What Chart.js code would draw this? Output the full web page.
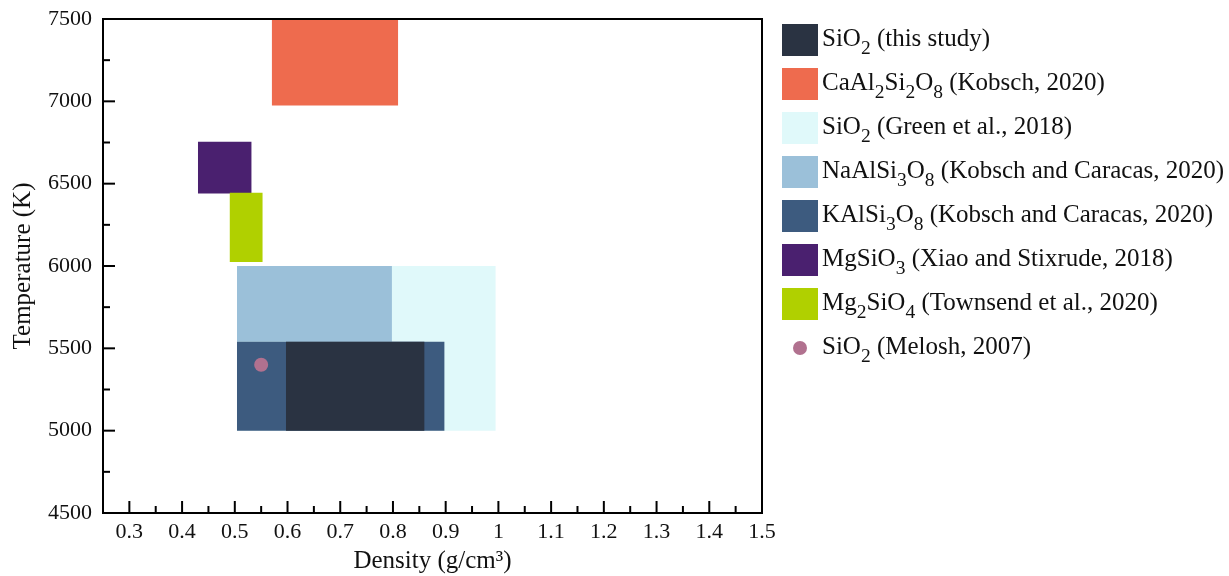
<!DOCTYPE html>
<html>
<head>
<meta charset="utf-8">
<script src="https://cdn.jsdelivr.net/npm/chart.js@4/dist/chart.umd.min.js"></script>
<style>
   html, body { margin: 0; padding: 0; background: #fff; }
   .wrap { position: relative; width: 1229px; height: 576px; }
   .legend { position: absolute; left: 782px; top: 18px; font-family: "Liberation Serif", "Times New Roman", serif; font-size: 25px; color: #111; }
   .legend .row { height: 44px; display: flex; align-items: center; white-space: nowrap; }
   .legend .box { width: 36px; height: 32px; flex: none; }
   .legend .dot { width: 14px; height: 14px; border-radius: 50%; margin: 0 11px; flex: none; }
   .legend .txt { margin-left: 4px; line-height: 25px; position: relative; top: -3px; }
   .legend sub { font-size: 0.78em; vertical-align: -0.42em; line-height: 0; }
</style>
</head>
<body>
<div class="wrap">
   <canvas id="chart" width="1229" height="576"></canvas>
   <div class="legend"></div>
</div>
<script>
// ==========================================
// Data
// ==========================================

// _n means subscript n
const names = [
   "SiO_2 (this study)",
   "CaAl_2Si_2O_8 (Kobsch, 2020)",
   "SiO_2 (Green et al., 2018)",
   "NaAlSi_3O_8 (Kobsch and Caracas, 2020)",
   "KAlSi_3O_8 (Kobsch and Caracas, 2020)",
   "MgSiO_3 (Xiao and Stixrude, 2018)",
   "Mg_2SiO_4 (Townsend et al., 2020)"
];
const densityMin = [0.597, 0.57, 0.504, 0.504, 0.504, 0.43, 0.49];
const densityMax = [0.86, 0.81, 0.995, 0.798, 0.898, 0.532, 0.553];
const tempMin = [5000, 6975, 5000, 5540, 5000, 6440, 6025];
const tempMax = [5540, 7500, 6000, 6000, 5540, 6755, 6445];

const pointName = "SiO_2 (Melosh, 2007)";
const pointDensity = [0.55];
const pointTemp = [5400];

const colors = ["#2a3342", "#ee6b4e", "#e0f9fa", "#9bc0d9", "#3d5b7f", "#4a206f", "#b0d000"];
const pointColor = "#b1718f";
// lower = drawn on top
const layer = [2, 5, 6, 4, 3, 8, 7];

// ==========================================
// Chart
// ==========================================

const FONT = "'Liberation Serif', 'Times New Roman', serif";

let datasets = names.map((name, i) => ({
   label: name,
   data: [{ x: densityMin[i], y: tempMax[i] }, { x: densityMax[i], y: tempMax[i] }],
   fill: { value: tempMin[i] },
   backgroundColor: colors[i],
   borderWidth: 0,
   pointRadius: 0,
   order: layer[i]
}));

datasets.push({
   label: pointName,
   data: pointDensity.map((d, i) => ({ x: d, y: pointTemp[i] })),
   showLine: false,
   pointRadius: 7,
   pointBackgroundColor: pointColor,
   pointBorderWidth: 0,
   order: 0
});

function isMajor(v, step) {
   return Math.abs(v / step - Math.round(v / step)) < 1e-6;
}

// inward ticks + frame
const frame = {
   id: "frame",
   afterDraw(chart) {
      const { ctx, chartArea: a, scales } = chart;
      ctx.save();
      ctx.strokeStyle = "#000";
      ctx.lineWidth = 2;
      scales.x.ticks.forEach(t => {
         let px = scales.x.getPixelForValue(t.value);
         let len = isMajor(t.value, 0.1) ? 12 : 7;
         ctx.beginPath();
         ctx.moveTo(px, a.bottom);
         ctx.lineTo(px, a.bottom - len);
         ctx.stroke();
      });
      scales.y.ticks.forEach(t => {
         let py = scales.y.getPixelForValue(t.value);
         let len = isMajor(t.value, 500) ? 12 : 7;
         ctx.beginPath();
         ctx.moveTo(a.left, py);
         ctx.lineTo(a.left + len, py);
         ctx.stroke();
      });
      ctx.strokeRect(a.left, a.top, a.right - a.left, a.bottom - a.top);
      ctx.restore();
   }
};

new Chart(document.getElementById("chart"), {
   type: "line",
   data: { datasets: datasets },
   options: {
      responsive: false,
      animation: false,
      events: [],
      layout: { padding: { top: 19, right: 467, left: 0, bottom: 0 } },
      plugins: { legend: { display: false }, tooltip: { enabled: false } },
      scales: {
         x: {
            type: "linear",
            min: 0.25,
            max: 1.5,
            grid: { display: false, drawTicks: false },
            border: { display: false },
            afterFit: (s) => { s.height = 63; },
            ticks: {
               stepSize: 0.05,
               autoSkip: false,
               maxRotation: 0,
               padding: 6,
               color: "#111",
               font: { family: FONT, size: 22 },
               callback: (v) => isMajor(v, 0.1) ? String(Math.round(v * 10) / 10) : ""
            },
            title: {
               display: true,
               text: "Density (g/cm³)",
               color: "#111",
               font: { family: FONT, size: 25 },
               padding: { top: 0, bottom: 0 }
            }
         },
         y: {
            type: "linear",
            min: 4500,
            max: 7500,
            grid: { display: false, drawTicks: false },
            border: { display: false },
            afterFit: (s) => { s.width = 103; s.paddingTop = 0; s.paddingBottom = 0; },
            ticks: {
               stepSize: 250,
               autoSkip: false,
               padding: 11,
               color: "#111",
               font: { family: FONT, size: 22 },
               callback: (v) => isMajor(v, 500) ? String(v) : ""
            },
            title: {
               display: true,
               text: "Temperature (K)",
               color: "#111",
               font: { family: FONT, size: 25 },
               padding: { top: 8, bottom: 0 }
            }
         }
      }
   },
   plugins: [frame]
});

// ==========================================
// Legend (html, for subscripts)
// ==========================================

function subHtml(s) {
   return s.replace(/_(\d)/g, "<sub>$1</sub>");
}

const legend = document.querySelector(".legend");
names.forEach((name, i) => {
   let row = document.createElement("DIV");
   row.classList.add("row");
   row.innerHTML = `<span class="box" style="background:${colors[i]}"></span><span class="txt">${subHtml(name)}</span>`;
   legend.appendChild(row);
});
let pointRow = document.createElement("DIV");
pointRow.classList.add("row");
pointRow.innerHTML = `<span class="dot" style="background:${pointColor}"></span><span class="txt">${subHtml(pointName)}</span>`;
legend.appendChild(pointRow);
</script>
</body>
</html>
